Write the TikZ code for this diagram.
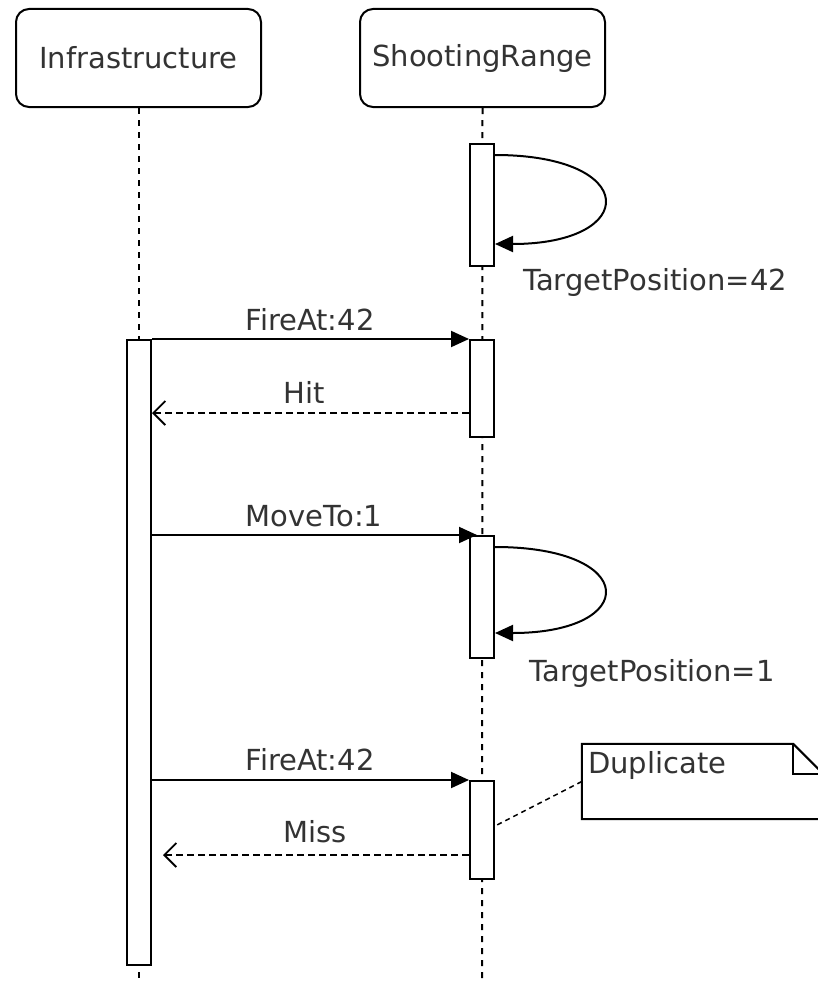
\documentclass[tikz,border=0pt]{standalone}
\usepackage{fontspec}
\setmainfont{DejaVu Sans}
\usetikzlibrary{arrows.meta}
\definecolor{txt}{RGB}{51,51,51}
\begin{document}
\begin{tikzpicture}[x=1pt,y=-1pt,
  every node/.style={font=\fontsize{29}{35}\selectfont, text=txt, inner sep=0pt},
  headbox/.style={draw, line width=2pt, rounded corners=13pt, minimum width=245pt, minimum height=98pt, fill=white},
  actbox/.style={draw, line width=2pt, fill=white, minimum width=24pt},
  lifeline/.style={line width=2pt, dash pattern=on 6pt off 6pt},
  msg/.style={line width=2pt, -{Triangle[length=18pt,width=16pt]}},
  reply/.style={line width=1.8pt, dash pattern=on 7pt off 4pt, -{Straight Barb[length=12pt,width=24pt,line width=1.8pt]}},
  lbl/.style={anchor=center}
]
\clip (0,0) rectangle (818,982);
\fill[white] (0,0) rectangle (818,982);
% heads
\node[headbox] (hI) at (138.5,58) {Infrastructure};
\node[headbox] (hS) at (482.5,58) {ShootingRange};
\coordinate (iEnd) at (138.5,982);
\coordinate (sEnd) at (482,982);
% lifelines
\draw[lifeline] (hI.south) -- (iEnd);
\draw[lifeline] (hS.south) -- (sEnd);
% activations
\node[actbox, minimum height=625pt] (ia) at (139,652.5) {};
\node[actbox, minimum height=122pt] (a1) at (482,205) {};
\node[actbox, minimum height=97pt] (a2) at (482,388.5) {};
\node[actbox, minimum height=122pt] (a3) at (482,597) {};
\node[actbox, minimum height=98pt] (a4) at (482,830) {};
% self message 1
\draw[msg] ([yshift=-12pt]a1.north east) .. controls +(145,0) and +(145,0) .. ([yshift=23pt]a1.south east);
\node[lbl] (t1) at (655,282) {TargetPosition=42};
% FireAt 1
\draw[msg] (ia.east |- a2.north) -- (a2.north west);
\node[lbl] (l1) at (310,320) {FireAt:42};
% Hit
\draw[reply] ([yshift=-24.5pt]a2.west) -- ([yshift=-24.5pt]a2.west -| ia.east);
\node[lbl] (l2) at (304,392) {Hit};
% MoveTo
\draw[msg, shorten >=-8pt] (ia.east |- a3.north) -- (a3.north west);
\node[lbl] (l3) at (314,516) {MoveTo:1};
% self message 2
\draw[msg] ([yshift=-12pt]a3.north east) .. controls +(145,0) and +(145,0) .. ([yshift=26pt]a3.south east);
\node[lbl] (t2) at (652,673) {TargetPosition=1};
% FireAt 2
\draw[msg] (ia.east |- a4.north) -- (a4.north west);
\node[lbl] (l4) at (310,760) {FireAt:42};
% Miss
\coordinate (missEnd) at (163,855);
\draw[reply] ([yshift=-25pt]a4.west) -- (missEnd);
\node[lbl] (l5) at (315,832) {Miss};
% note
\node[minimum width=241pt, minimum height=75pt] (note) at (702.5,781.5) {};
\draw[line width=2pt, fill=white] (note.north west) -- ([xshift=-30pt]note.north east) -- ([yshift=-30pt]note.north east) -- (note.south east) -- (note.south west) -- cycle;
\draw[line width=2pt] ([xshift=-30pt]note.north east) -- ([xshift=-30pt,yshift=-30pt]note.north east) -- ([yshift=-30pt]note.north east);
\node[anchor=west] (ntext) at (588,765) {Duplicate};
\draw[line width=1.5pt, dash pattern=on 5pt off 4pt] (note.west) -- ([yshift=4pt]a4.east);
\end{tikzpicture}
\end{document}
